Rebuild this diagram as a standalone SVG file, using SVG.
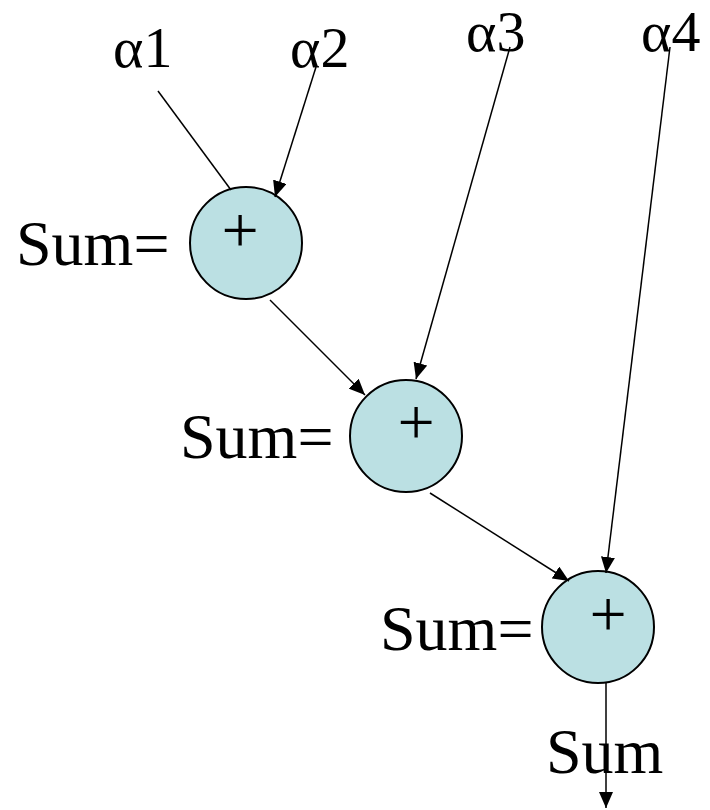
<svg xmlns="http://www.w3.org/2000/svg" width="710" height="810" viewBox="0 0 710 810">
<style>
.lbl{font-family:"Liberation Serif","Times New Roman",serif;fill:#000}
.big{font-size:64px}
.alpha{font-size:58px}
.plus{font-size:66px;text-anchor:middle}
.node circle{fill:#BBE0E3;stroke:#000;stroke-width:2}
.conn line{stroke:#000;stroke-width:1.5}
</style>
<defs>
<marker id="arr" markerUnits="userSpaceOnUse" markerWidth="16" markerHeight="14" refX="16" refY="7" orient="auto">
<path d="M0,0 L16,7 L0,14 Z" fill="#000"/>
</marker>
</defs>
<rect width="710" height="810" fill="#fff"/>
<g id="labels">
<text class="lbl alpha" x="113" y="67">α1</text>
<text class="lbl alpha" x="290" y="67">α2</text>
<text class="lbl alpha" x="466" y="51">α3</text>
<text class="lbl alpha" x="641" y="51">α4</text>
<text class="lbl big" x="16" y="265">Sum=</text>
<text class="lbl big" x="180" y="458">Sum=</text>
<text class="lbl big" x="380" y="650">Sum=</text>
<text class="lbl big" x="546" y="773">Sum</text>
</g>
<g id="node1" class="node">
<circle cx="246" cy="243" r="56"/>
<text class="lbl plus" x="240" y="252">+</text>
</g>
<g id="node2" class="node">
<circle cx="406" cy="436" r="56"/>
<text class="lbl plus" x="416" y="444">+</text>
</g>
<g id="node3" class="node">
<circle cx="598" cy="627" r="56"/>
<text class="lbl plus" x="608" y="636">+</text>
</g>
<g id="connectors" class="conn">
<line x1="158" y1="91" x2="231" y2="190"/>
<line x1="316" y1="67" x2="275" y2="197" marker-end="url(#arr)"/>
<line x1="510" y1="47" x2="416" y2="379" marker-end="url(#arr)"/>
<line x1="670" y1="47" x2="606" y2="573" marker-end="url(#arr)"/>
<line x1="270" y1="300" x2="365" y2="395" marker-end="url(#arr)"/>
<line x1="430" y1="493" x2="569" y2="581" marker-end="url(#arr)"/>
<line x1="606" y1="683" x2="606" y2="808" marker-end="url(#arr)"/>
</g>
</svg>
